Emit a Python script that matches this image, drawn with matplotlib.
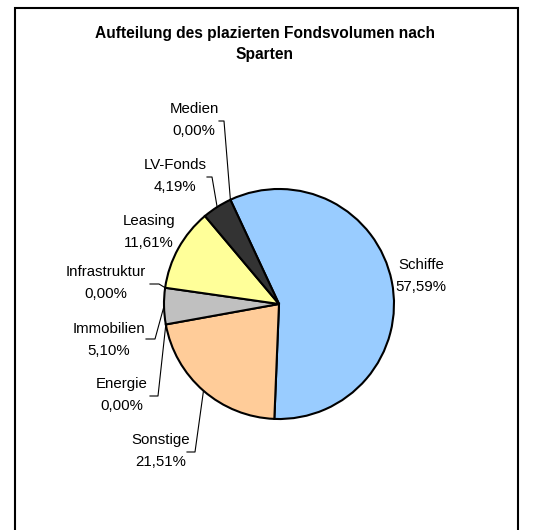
import numpy as np
import matplotlib
matplotlib.use('Agg')
from matplotlib import pyplot as plt
from matplotlib.patches import Rectangle

plt.rcParams['font.family'] = ['Liberation Sans', 'DejaVu Sans']

# data, clockwise from Schiffe
sparten = ['Schiffe', 'Sonstige', 'Energie', 'Immobilien', 'Infrastruktur', 'Leasing', 'LV-Fonds', 'Medien']
anteile = [57.59, 21.51, 0.00, 5.10, 0.00, 11.61, 4.19, 0.00]
farben = ['#99CCFF', '#FFCC99', '#FFFFFF', '#C0C0C0', '#FFFFFF', '#FFFF99', '#333333', '#FFFFFF']
titel = 'Aufteilung des plazierten Fondsvolumen nach\nSparten'

W, H = 548, 530
cx, cy, R = 279, 304, 115

# label layout in pixel coords: text center, leader elbow, leader end (None = no leader)
layout = {
	'Schiffe': ((421, 276), None, None),
	'Sonstige': ((161, 451), (195, 452), (187, 452)),
	'Energie': ((122, 395), (158, 396), (150, 396)),
	'Immobilien': ((109, 340), (155, 339), (146, 339)),
	'Infrastruktur': ((106, 283), (159, 284), (150, 284)),
	'Leasing': ((149, 232), None, None),
	'LV-Fonds': ((175, 176), (212, 177), (207, 177)),
	'Medien': ((194, 120), (224, 121), (219, 121)),
}

def px(p):
	return ((p[0] - cx) / R, (cy - p[1]) / R)

fig = plt.figure(figsize=(W / 100, H / 100), dpi=100)
ax = fig.add_axes([0, 0, 1, 1])

fig.patches.append(Rectangle((15 / W, -0.01), (518 - 15) / W, 1 - 8 / H + 0.01,
	transform=fig.transFigure, fill=False, edgecolor='black', linewidth=1.5))

fig.text(265 / W, 1 - 44 / H, titel, ha='center', va='center', fontsize=11.2,
	fontweight='bold', linespacing=1.55)

werte = [max(a, 1e-9) for a in anteile]
wedges, _ = ax.pie(werte, colors=farben, startangle=115, counterclock=False, radius=1,
	center=(0, 0), frame=True,
	wedgeprops=dict(edgecolor='black', linewidth=1.5))
ax.axis('off')
ax.set_aspect('equal')
ax.set_xlim(-cx / R, (W - cx) / R)
ax.set_ylim(-(H - cy) / R, cy / R)

for name, wert, w in zip(sparten, anteile, wedges):
	if wert == 0:
		w.set_visible(False)
	textpos, elbow, end = layout[name]
	label = name + '\n' + ('%.2f' % wert).replace('.', ',') + '%'
	tx, ty = px(textpos)
	ax.text(tx, ty, label, ha='center', va='center', fontsize=10.8, linespacing=1.7)
	if elbow is not None:
		mid = np.deg2rad((w.theta1 + w.theta2) / 2)
		ex, ey = px(elbow)
		nx, ny = px(end)
		ax.plot([np.cos(mid), ex, nx], [np.sin(mid), ey, ny], color='black', linewidth=0.8)

fig.savefig('out.png', dpi=100)
